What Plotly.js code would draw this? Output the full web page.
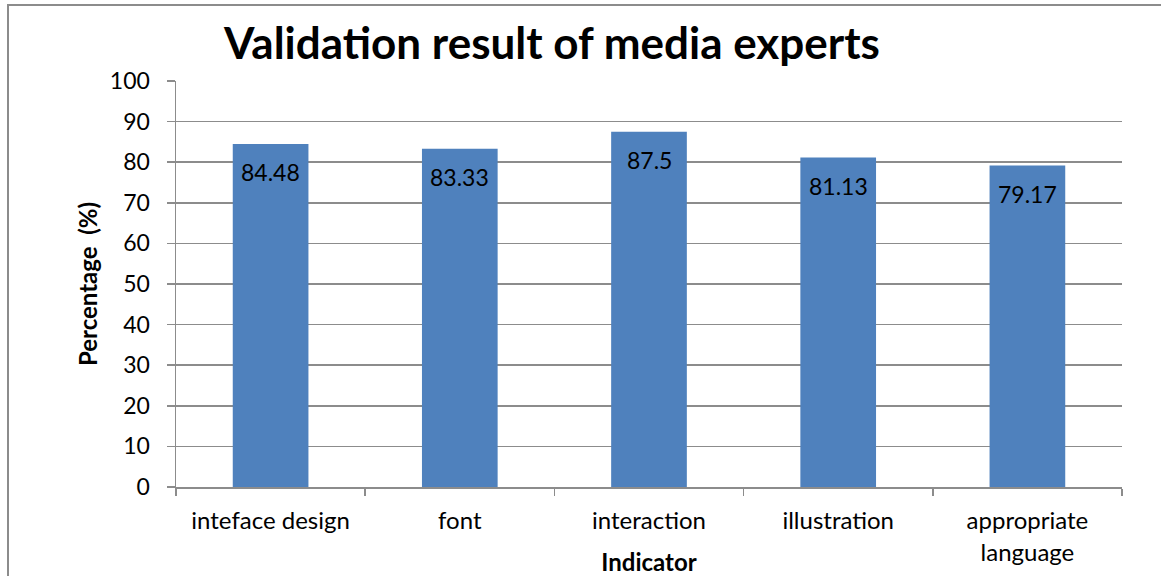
<!DOCTYPE html>
<html>
<head>
<meta charset="utf-8">
<script src="https://cdn.plot.ly/plotly-3.0.1.min.js"></script>
<style>
  html, body { margin: 0; padding: 0; background: #fff; overflow: hidden; }
  #chart { width: 1161px; height: 576px; }
  #frame { position: absolute; left: 7px; top: 4px; width: 1200px; height: 620px;
           border-left: 2px solid #8c8c8c; border-top: 2px solid #8c8c8c; pointer-events: none; }
</style>
</head>
<body>
<div id="chart"></div>
<div id="frame"></div>
<script>
const categories = ["inteface design", "font", "interaction", "illustration", "appropriate<br>language"];
const values = [84.48, 83.33, 87.5, 81.13, 79.17];
const valueLabels = ["84.48", "83.33", "87.5", "81.13", "79.17"];
const titleText = "Validation result of media experts";
const xTitle = "Indicator";
const yTitle = "Percentage  (%)";

const FONT = "Lato, 'Open Sans', sans-serif";

const trace = {
  type: "bar",
  x: categories,
  y: values,
  marker: { color: "#4F81BD" },
  hoverinfo: "x+y"
};

const annotations = categories.map((c, i) => ({
  x: c, y: values[i], xref: "x", yref: "y",
  text: valueLabels[i], showarrow: false,
  yanchor: "top", yshift: -12,
  font: { family: FONT, size: 23, color: "#000" }
}));

const layout = {
  width: 1161, height: 576,
  margin: { l: 176, r: 39, t: 81, b: 89 },
  paper_bgcolor: "#fff", plot_bgcolor: "#fff",
  showlegend: false,
  bargap: 0.6,
  title: {
    text: "<b>" + titleText + "</b>",
    font: { family: FONT, size: 44, color: "#000" },
    x: 552 / 1161, xanchor: "center", xref: "container",
    y: 1 - 44 / 576, yanchor: "middle", yref: "container"
  },
  xaxis: {
    type: "category",
    showline: true, linecolor: "#8c8c8c", linewidth: 1.5,
    ticks: "outside", tickson: "boundaries", ticklen: 7, tickcolor: "#8c8c8c", tickwidth: 1.5,
    tickfont: { family: FONT, size: 24, color: "#000" },
    ticklabelstandoff: 12,
    showgrid: false,
    title: { text: "<b>" + xTitle + "</b>", font: { family: FONT, size: 24, color: "#000" }, standoff: 0 }
  },
  yaxis: {
    range: [0, 100], dtick: 10, tick0: 0,
    showline: true, linecolor: "#8c8c8c", linewidth: 1.5,
    ticks: "outside", ticklen: 8, tickcolor: "#8c8c8c", tickwidth: 1.5,
    tickfont: { family: FONT, size: 23, color: "#000" },
    ticklabelstandoff: 12,
    showgrid: true, gridcolor: "#8c8c8c", gridwidth: 1.5,
    zeroline: false,
    title: { text: "<b>" + yTitle + "</b>", font: { family: FONT, size: 24, color: "#000" }, standoff: 5 }
  },
  annotations: annotations
};

Plotly.newPlot("chart", [trace], layout, { displayModeBar: false, staticPlot: true });
</script>
</body>
</html>
